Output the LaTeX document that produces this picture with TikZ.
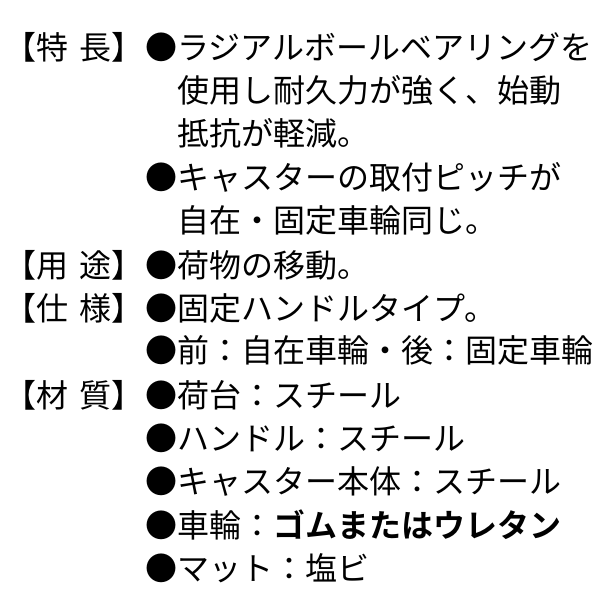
\documentclass[tikz,border=0pt]{standalone}
\usepackage{fontspec}
\newfontfamily\jp{Noto Sans CJK JP}
\newfontfamily\jpb{Noto Sans CJK JP Bold}
\tikzset{
  line/.style={anchor=west, inner sep=0pt, font=\jp\fontsize{32}{32}\selectfont},
  label/.style={line}
}
\begin{document}
\begin{tikzpicture}[x=1pt, y=-1pt]
  \useasboundingbox (0,0) rectangle (600,600);
  % headings
  \node[label] (h1) at (4,47) {【特\hspace{0.35em}長】};
  \node[label] (h2) at (4,265) {【用\hspace{0.35em}途】};
  \node[label] (h3) at (4,308) {【仕\hspace{0.35em}様】};
  \node[label] (h4) at (4,395) {【材\hspace{0.35em}質】};
  % items
  \node[line] (l1) at (145,47) {●ラジアルボールベアリングを};
  \node[line] (l2) at (177,90) {使用し耐久力が強く、始動};
  \node[line] (l3) at (177,133) {抵抗が軽減。};
  \node[line] (l4) at (145,177) {●キャスターの取付ピッチが};
  \node[line] (l5) at (177,220) {自在・固定車輪同じ。};
  \node[line] (l6) at (145,265) {●荷物の移動。};
  \node[line] (l7) at (145,308) {●固定ハンドルタイプ。};
  \node[line] (l8) at (145,350) {●前：自在車輪・後：固定車輪};
  \node[line] (l9) at (145,395) {●荷台：スチール};
  \node[line] (l10) at (145,438) {●ハンドル：スチール};
  \node[line] (l11) at (145,482) {●キャスター本体：スチール};
  \node[line] (l12) at (145,525) {●車輪：{\jpb ゴムまたはウレタン}};
  \node[line] (l13) at (145,568) {●マット：塩ビ};
\end{tikzpicture}
\end{document}
